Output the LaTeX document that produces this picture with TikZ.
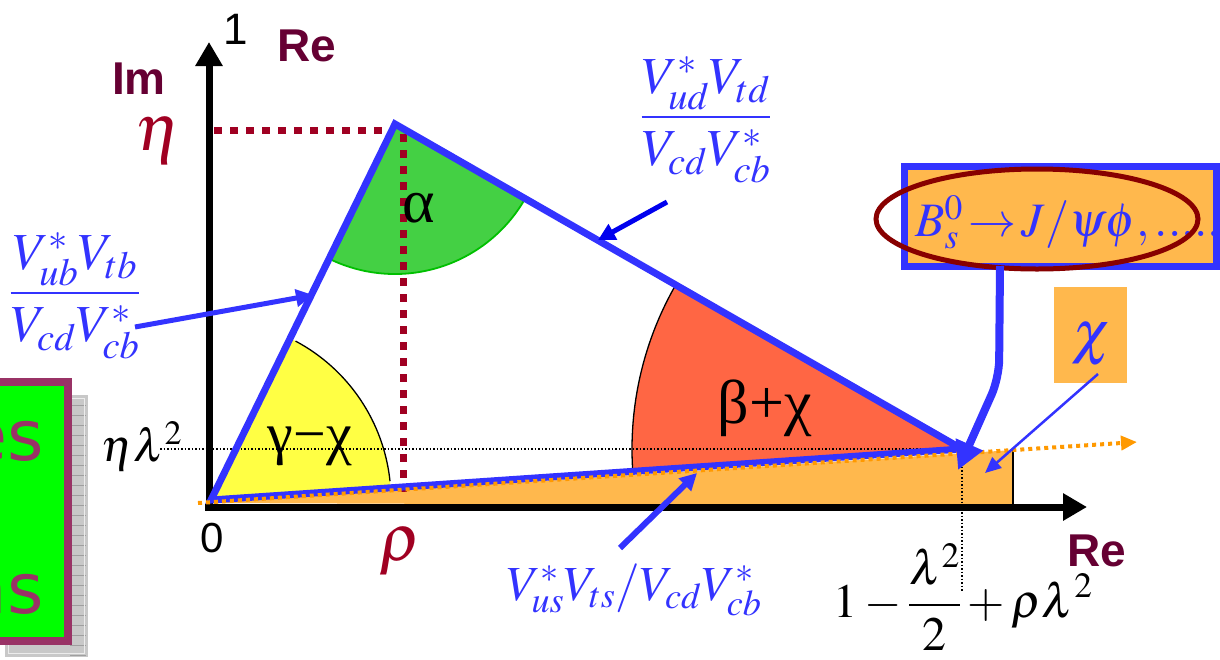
\documentclass[tikz,border=0pt]{standalone}
\usepackage{mathptmx}
\usepackage[no-math]{fontspec}
\setmainfont{Liberation Serif}
\newfontfamily\arialf{Liberation Sans}
\newfontfamily\verdf{DejaVu Sans}
\newfontfamily\timesf{Liberation Serif}
\usetikzlibrary{arrows.meta,shapes.geometric}
\definecolor{triblue}{HTML}{3333FF}
\definecolor{deepblue}{HTML}{0000EE}
\definecolor{darkred}{HTML}{A00022}
\definecolor{imre}{HTML}{660033}
\definecolor{ellred}{HTML}{880000}
\definecolor{secgreen}{HTML}{44D044}
\definecolor{edgegreen}{HTML}{00C000}
\definecolor{orangefill}{HTML}{FFB84D}
\definecolor{orangedot}{HTML}{FF9900}
\definecolor{secred}{HTML}{FF6644}
\definecolor{secyellow}{HTML}{FFFF44}
\definecolor{boxgreen}{HTML}{00FF00}
\definecolor{boxmaroon}{HTML}{993366}
\definecolor{shadowgray}{HTML}{C8C8C8}
\begin{document}
\begin{tikzpicture}[x=1pt,y=1pt,
  triline/.style={draw=triblue, line width=7pt, line join=miter},
  axisline/.style={line width=7pt, -{Triangle[length=24pt,width=26pt]}},
  drdot/.style={draw=darkred, line width=7pt, dash pattern=on 8pt off 8pt},
  thindot/.style={line width=1.3pt, dash pattern=on 1.5pt off 2pt},
  bluearr/.style={draw=triblue, line width=5pt, -{Triangle[length=17pt,width=17pt]}},
  lbl/.style={inner sep=0pt},
  sans/.style={lbl, font=\arialf\fontsize{#1}{#1}\selectfont},
  boldsans/.style={lbl, text=imre, font=\arialf\bfseries\fontsize{#1}{#1}\selectfont},
  serif/.style={lbl, font=\fontsize{#1}{#1}\selectfont},
  greek/.style={lbl, font=\timesf\fontsize{#1}{#1}\selectfont}]
\useasboundingbox (0,0) rectangle (1220,-659);

% ---------- green box at the left ----------
\fill[shadowgray] (5,-395) rectangle (88,-657);
\foreach \yy in {405,415,...,655} \draw[gray!75, line width=0.6pt] (70,-\yy) -- (86,-\yy);
\draw[white!85!gray, line width=1pt] (8,-398) rectangle (84,-653);
\draw[boxmaroon, line width=8pt, fill=boxgreen] (-20,-382) rectangle (68,-641);
\node[lbl, anchor=base east, text=boxmaroon, font=\verdf\fontsize{70}{70}\selectfont] (es) at (44,-460) {es};
\node[lbl, anchor=base east, text=boxmaroon, font=\verdf\fontsize{70}{70}\selectfont] (ns) at (44,-613) {ns};

% ---------- key points ----------
\coordinate (O) at (211,-500);
\coordinate (A) at (395,-124);
\coordinate (B) at (962,-449);

% ---------- sectors ----------
\fill[secred] (B) -- ++(150:330) arc[start angle=150, end angle=184, radius=330] -- cycle;
\draw[line width=1.3pt] (B) ++(150:330) arc[start angle=150, end angle=184, radius=330];
\fill[secgreen] (A) -- ++(244.2:150) arc[start angle=244.2, end angle=330, radius=150] -- cycle;
\draw[edgegreen, line width=1.8pt] (A) ++(244.2:150) arc[start angle=244.2, end angle=330, radius=150];
\fill[secyellow] (O) -- ++(4:180) arc[start angle=4, end angle=64.2, radius=180] -- cycle;
\draw[line width=1.3pt] (O) ++(6:180) arc[start angle=6, end angle=62, radius=180];

% ---------- orange region ----------
\coordinate (or0) at (205,-503);
\coordinate (or1) at (1013,-450);
\coordinate (or2) at (1013,-506);
\fill[orangefill] (or0) -- (or1) -- (or2) -- cycle;
\draw[line width=1.3pt] (or1) -- (or2);

% ---------- thin dotted guides ----------
\coordinate (h0) at (160,-449);
\coordinate (v1) at (962,-592);
\draw[thindot] (h0) -- (B);
\draw[thindot] (B) -- (v1);

% ---------- dark red dotted projections ----------
\coordinate (etaL) at (214,-130);
\coordinate (etaR) at (392,-130);
\coordinate (rhoT) at (403,-134);
\coordinate (rhoB) at (403,-492);
\draw[drdot] (etaL) -- (etaR);
\draw[drdot] (rhoT) -- (rhoB);

% ---------- axes ----------
\coordinate (y0) at (209,-511);
\coordinate (y1) at (209,-42);
\coordinate (x0) at (205,-507);
\coordinate (x1) at (1087,-507);
\draw[axisline] (y0) -- (y1);
\draw[axisline] (x0) -- (x1);

% ---------- triangle ----------
\draw[triline] (O) -- (A) -- (B) -- cycle;

% ---------- orange dotted arrow ----------
\coordinate (od0) at (198,-503);
\coordinate (od1) at (1137,-442);
\draw[orangedot, line width=4pt, dash pattern=on 4pt off 4pt, -{Triangle[length=16pt,width=14pt]}] (od0) -- (od1);

% ---------- axis labels ----------
\node[sans=44] (one) at (236,-29) {1};
\node[boldsans=46] (reTop) at (307,-46) {Re};
\node[boldsans=46] (im) at (139,-79) {Im};
\node[boldsans=46] (reBot) at (1097,-551) {Re};
\node[sans=42] (zero) at (212,-538) {0};
\node[serif=66, text=darkred] (eta) at (158,-140) {$\eta$};
\node[serif=66, text=darkred] (rho) at (400,-552) {$\rho$};
\node[serif=46] (etalam) at (142,-446) {$\eta\lambda^2$};

% ---------- angle labels ----------
\node[greek=58] (gc) at (310,-446) {γ−χ};
\node[greek=62] (alpha) at (419,-208) {α};
\node[greek=62] (bc) at (765,-408) {β+χ};

% ---------- side labels ----------
\node[serif=52, text=triblue] (fracL) at (75,-296) {$\displaystyle\frac{V^{*}_{ub}V_{tb}}{V_{cd}V^{*}_{cb}}$};
\coordinate (aL1) at (135,-327);
\coordinate (aL2) at (313,-295);
\draw[bluearr] (aL1) -- (aL2);

\node[serif=52, text=triblue] (fracT) at (706,-120) {$\displaystyle\frac{V^{*}_{ud}V_{td}}{V_{cd}V^{*}_{cb}}$};
\coordinate (aT1) at (667,-202);
\coordinate (aT2) at (598,-240);
\draw[bluearr, draw=deepblue] (aT1) -- (aT2);

\node[serif=49, text=triblue] (fracB) at (634,-590) {$V^{*}_{us}V_{ts}/V_{cd}V^{*}_{cb}$};
\coordinate (aB1) at (620,-548);
\coordinate (aB2) at (697,-473);
\draw[bluearr, line width=6pt] (aB1) -- (aB2);

\node[serif=48] (apex) at (963,-597) {$1-\displaystyle\frac{\lambda^2}{2}+\rho\lambda^2$};

% ---------- B_s box ----------
\node[draw=triblue, line width=7pt, fill=orangefill, minimum width=312, minimum height=100, inner sep=0pt] (bsbox) at (1060,-216) {};
\node[serif=48, text=triblue, anchor=west] (bstext) at (915,-222) {$B_s^0\!\rightarrow\! J/\psi\phi,.....$};
\node[draw=ellred, line width=5pt, ellipse, minimum width=322, minimum height=100, inner sep=0pt] (ell) at (1037,-219) {};
\coordinate (cb0) at (1000,-266);
\coordinate (cb1) at (999,-378);
\coordinate (cb2) at (958,-470);
\draw[triblue, line width=8pt, rounded corners=18pt, -{Triangle[length=28pt,width=28pt]}] (cb0) -- (cb1) -- (cb2);

% ---------- chi box ----------
\node[fill=orangefill, minimum width=73, minimum height=96, inner sep=0pt] (chibox) at (1090.5,-335) {};
\node[serif=60, text=triblue] (chi) at (1092,-345) {$\chi$};
\coordinate (ch1) at (1098,-374);
\coordinate (ch2) at (985,-473);
\draw[triblue, line width=2.5pt, -{Triangle[length=16pt,width=14pt]}] (ch1) -- (ch2);
\end{tikzpicture}
\end{document}
